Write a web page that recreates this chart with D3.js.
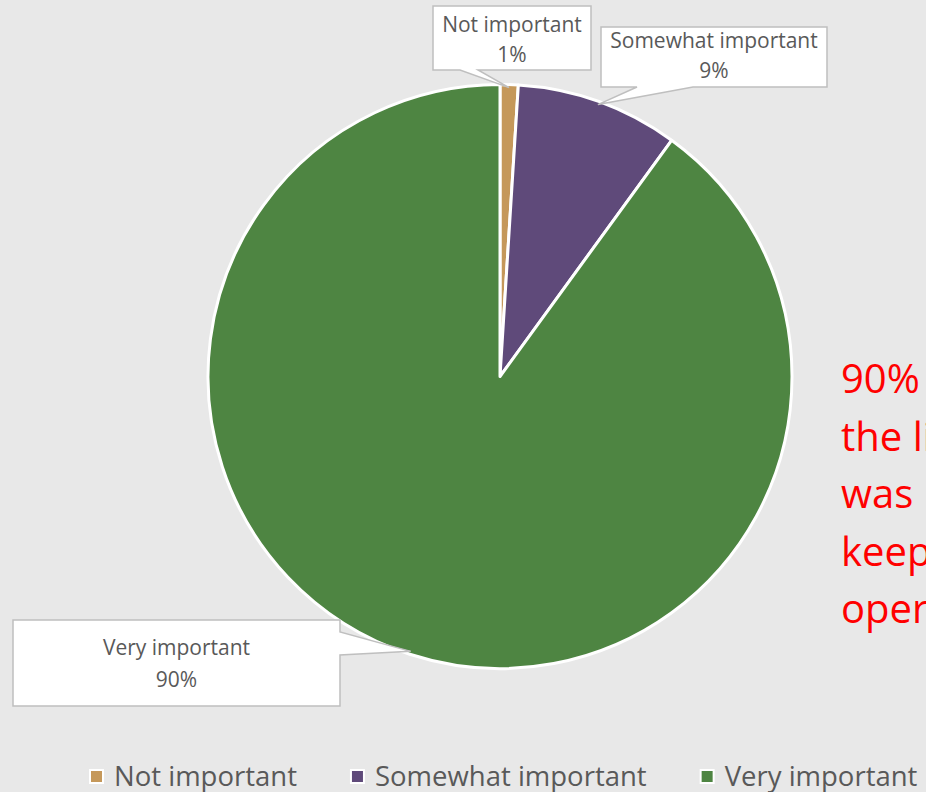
<!DOCTYPE html>
<html>
<head>
<meta charset="utf-8">
<script src="https://cdn.jsdelivr.net/npm/d3@7"></script>
<style>
  html, body { margin: 0; padding: 0; background: #E8E8E8; overflow: hidden; }
  svg { display: block; }
  text { font-family: "Open Sans", "DejaVu Sans", sans-serif; }
</style>
</head>
<body>
<svg id="chart" width="926" height="792"></svg>
<script>
// Survey answers: how important the service was
const categories = ["Not important", "Somewhat important", "Very important"];
const shares = [1, 9, 90];
const shareLabels = ["1%", "9%", "90%"];
const sliceColors = ["#C5985A", "#5F4A7A", "#4E8542"];
const noteLines = ["90% of those asked said", "the library", "was key to", "keeping them", "operating"];

const W = 926, H = 792;
const svg = d3.select("#chart");
svg.append("rect").attr("width", W).attr("height", H).attr("fill", "#E8E8E8");

const cx = 500, cy = 376.5, R = 292;
const data = categories.map((c, i) => ({ category: c, value: shares[i], label: shareLabels[i] }));

const pie = d3.pie().sort(null).value(d => d.value);
const arcs = pie(data);
const arc = d3.arc().innerRadius(0).outerRadius(R);
const tipArc = d3.arc().innerRadius(R - 3).outerRadius(R - 3);

const color = d3.scaleOrdinal().domain(categories).range(sliceColors);

const g = svg.append("g").attr("transform", `translate(${cx},${cy})`);
g.selectAll("path.slice")
  .data(arcs)
  .join("path")
  .attr("class", "slice")
  .attr("d", arc)
  .attr("fill", d => color(d.data.category))
  .attr("stroke", "#FFFFFF")
  .attr("stroke-width", 3)
  .attr("stroke-linejoin", "round");

// Callout boxes: [x, y, w, h], the edge carrying the pointer, pointer base, text baselines
const callouts = [
  { box: [433, 6, 158, 64], edge: "bottom", base: [460, 478], lines: [32, 62] },
  { box: [601, 27, 226, 60], edge: "bottom", base: [637, 693], lines: [48, 78] },
  { box: [13, 620, 327, 86], edge: "right", base: [632, 655], lines: [655, 687] }
];

function calloutPath(c, tip) {
  const [x, y, w, h] = c.box;
  const x2 = x + w, y2 = y + h;
  const p = d3.path();
  if (c.edge === "bottom") {
    p.moveTo(x, y); p.lineTo(x2, y); p.lineTo(x2, y2);
    p.lineTo(c.base[1], y2); p.lineTo(tip[0], tip[1]); p.lineTo(c.base[0], y2);
    p.lineTo(x, y2); p.closePath();
  } else {
    p.moveTo(x, y); p.lineTo(x2, y); p.lineTo(x2, c.base[0]);
    p.lineTo(tip[0], tip[1]); p.lineTo(x2, c.base[1]);
    p.lineTo(x2, y2); p.lineTo(x, y2); p.closePath();
  }
  return p.toString();
}

const labelLayer = svg.append("g");
arcs.forEach((a, i) => {
  const c = callouts[i];
  const t = tipArc.centroid(a);
  const tip = [cx + t[0], cy + t[1]];
  labelLayer.append("path")
    .attr("d", calloutPath(c, tip))
    .attr("fill", "#FFFFFF")
    .attr("stroke", "#BFBFBF")
    .attr("stroke-width", 1.5)
    .attr("stroke-linejoin", "miter");
  const mx = c.box[0] + c.box[2] / 2;
  labelLayer.append("text")
    .attr("x", mx).attr("y", c.lines[0])
    .attr("text-anchor", "middle")
    .attr("font-size", 21)
    .attr("fill", "#595959")
    .text(a.data.category);
  labelLayer.append("text")
    .attr("x", mx).attr("y", c.lines[1])
    .attr("text-anchor", "middle")
    .attr("font-size", 21)
    .attr("fill", "#595959")
    .text(a.data.label);
});

// Red note on the right, running off the edge
const note = svg.append("g");
noteLines.forEach((line, i) => {
  note.append("text")
    .attr("x", 841)
    .attr("y", 393 + i * 57.5)
    .attr("font-size", 40)
    .attr("fill", "#FF0000")
    .text(line);
});

// Legend
const legend = svg.append("g");
let lx = 90;
categories.forEach((c, i) => {
  const item = legend.append("g");
  item.append("rect")
    .attr("x", lx).attr("y", 770)
    .attr("width", 13).attr("height", 13)
    .attr("fill", color(c))
    .attr("stroke", "#FFFFFF")
    .attr("stroke-width", 2);
  const t = item.append("text")
    .attr("x", lx + 24).attr("y", 786)
    .attr("font-size", 27.5)
    .attr("fill", "#595959")
    .text(c);
  const tw = t.node().getComputedTextLength();
  lx = lx + 24 + tw + 54;
});
</script>
</body>
</html>
